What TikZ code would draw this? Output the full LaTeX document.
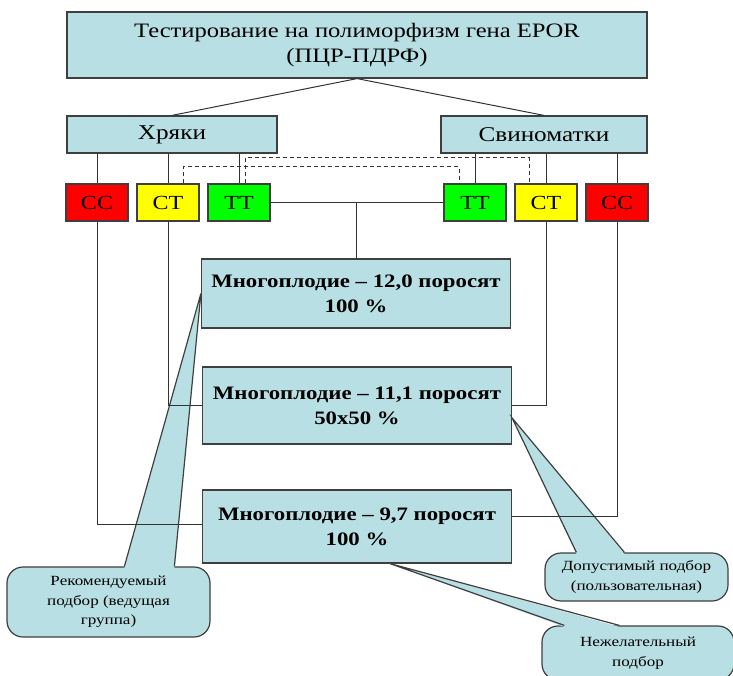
\documentclass[tikz,border=0pt]{standalone}
\usepackage{fontspec}
\setmainfont{Liberation Serif}[FakeStretch=1.2]
\newfontfamily\calfont{Liberation Serif}[FakeStretch=1.22]
\usetikzlibrary{calc}

\definecolor{boxfill}{HTML}{B8DFE3}
\definecolor{boxline}{HTML}{3F3F3F}
\definecolor{wirecol}{HTML}{333333}
\definecolor{ccred}{HTML}{FF0000}
\definecolor{ctyellow}{HTML}{FFFF00}
\definecolor{ttgreen}{HTML}{00FF00}

\tikzset{
  box/.style={draw=boxline, line width=1.2pt, fill=boxfill, inner sep=0pt, align=center},
  gene/.style={draw=boxline, line width=1.2pt, inner sep=0pt,
    minimum width=62pt, minimum height=37pt, font=\fontsize{20}{24}\selectfont},
  result/.style={box, minimum width=309pt, font=\bfseries\fontsize{19}{25}\selectfont},
  wire/.style={draw=wirecol, line width=1pt},
  dashwire/.style={wire, dash pattern=on 4pt off 3pt},
  callbody/.style={box, rounded corners=16pt, font=\calfont\fontsize{14}{19.5}\selectfont},
  wedgefill/.style={fill=boxfill},
  wedgeline/.style={draw=boxline, line width=1.2pt},
}

\begin{document}
\begin{tikzpicture}[x=1pt, y=-1pt]
\path[use as bounding box, clip] (0,0) rectangle (733,676);

% testing header
\node[box, minimum width=580pt, minimum height=66pt, font=\fontsize{20.5}{25}\selectfont]
  (test) at (357,45) {Тестирование на полиморфизм гена EPOR\\(ПЦР-ПДРФ)};

% parent groups
\node[box, minimum width=210pt, minimum height=37pt, font=\fontsize{21}{25}\selectfont]
  (boars) at (172,134.5) {Хряки};
\node[box, minimum width=206pt, minimum height=37pt, font=\fontsize{21}{25}\selectfont]
  (sows) at (544,134.5) {Свиноматки};

% genotypes
\node[gene, fill=ccred]    (ccL) at (97,202.5)  {CC};
\node[gene, fill=ctyellow] (ctL) at (168,202.5) {CT};
\node[gene, fill=ttgreen]  (ttL) at (239,202.5) {TT};
\node[gene, fill=ttgreen]  (ttR) at (475,202.5) {TT};
\node[gene, fill=ctyellow] (ctR) at (546,202.5) {CT};
\node[gene, fill=ccred]    (ccR) at (617,202.5) {CC};

% litter size outcomes
\node[result, minimum height=69pt] (m1) at (356,293.5) {Многоплодие – 12,0 поросят\\100 \%};
\node[result, minimum height=77pt] (m2) at (357,405.5) {Многоплодие – 11,1 поросят\\50x50 \%};
\node[result, minimum height=73pt] (m3) at (357,526.5) {Многоплодие – 9,7 поросят\\100 \%};

% callout bodies
\node[callbody, minimum width=203pt, minimum height=70pt] (c1) at (108.5,602)
  {Рекомендуемый\\подбор (ведущая\\группа)};
\node[callbody, minimum width=183pt, minimum height=48pt] (c2) at (636.5,577)
  {Допустимый подбор\\(пользовательная)};
\node[callbody, minimum width=192pt, minimum height=54pt] (c3) at (638,653)
  {Нежелательный\\подбор};

% callout wedges
\coordinate (c1a) at ($(c1.north west)+(118,0)$);
\coordinate (c1b) at ($(c1.north west)+(168,0)$);
\coordinate (c2a) at ($(c2.north west)+(32,0)$);
\coordinate (c2b) at ($(c2.north west)+(80,0)$);
\coordinate (c3a) at ($(c3.north west)+(23,0)$);
\coordinate (c3b) at ($(c3.north west)+(78,0)$);
\coordinate (t1) at (m1.west);
\coordinate (t2) at ($(m2.east)+(0,12.5)$);
\coordinate (t3) at ($(m3.south)+(33,0)$);

\fill[wedgefill] ($(c1a)+(0,1.5)$) -- (t1) -- ($(c1b)+(0,1.5)$) -- cycle;
\draw[wedgeline] (c1a) -- (t1) -- (c1b);
\fill[wedgefill] ($(c2a)+(0,1.5)$) -- (t2) -- ($(c2b)+(0,1.5)$) -- cycle;
\draw[wedgeline] (c2a) -- (t2) -- (c2b);
\fill[wedgefill] ($(c3a)+(0,1.5)$) -- (t3) -- ($(c3b)+(0,1.5)$) -- cycle;
\draw[wedgeline] (c3a) -- (t3) -- (c3b);

% header to groups
\draw[wire] (boars.north) -- (test.south) -- (sows.north);

% groups to genotypes
\draw[wire] (boars.south -| ccL.north) -- (ccL.north);
\draw[wire] (boars.south -| ctL.north) -- (ctL.north);
\draw[wire] (boars.south -| ttL.north) -- (ttL.north);
\draw[wire] (sows.south -| ttR.north) -- (ttR.north);
\draw[wire] (sows.south -| ctR.north) -- (ctR.north);
\draw[wire] (sows.south -| ccR.north) -- (ccR.north);

% cross pairings
\coordinate (d1a) at ($(ctL.north)+(15,0)$);
\coordinate (d1b) at ($(ttR.north)+(-16,0)$);
\coordinate (d2a) at ($(ttL.north)+(6,0)$);
\coordinate (d2b) at ($(ctR.north)+(-17,0)$);
\draw[dashwire] (d1a) -- (d1a |- 0,167) -| (d1b);
\draw[dashwire] (d2a) -- (d2a |- 0,158) -| (d2b);

% genotype pairs to outcomes
\draw[wire] (ttL.east) -- (ttR.west);
\draw[wire] (m1.north) -- (m1.north |- ttL.east);
\draw[wire] (ctL.south) |- (m2.west);
\draw[wire] (ctR.south) |- (m2.east);
\draw[wire] (ccL.south) |- ($(m3.west)+(0,-2)$);
\draw[wire] (ccR.south) |- ($(m3.east)+(0,-10)$);
\end{tikzpicture}
\end{document}
